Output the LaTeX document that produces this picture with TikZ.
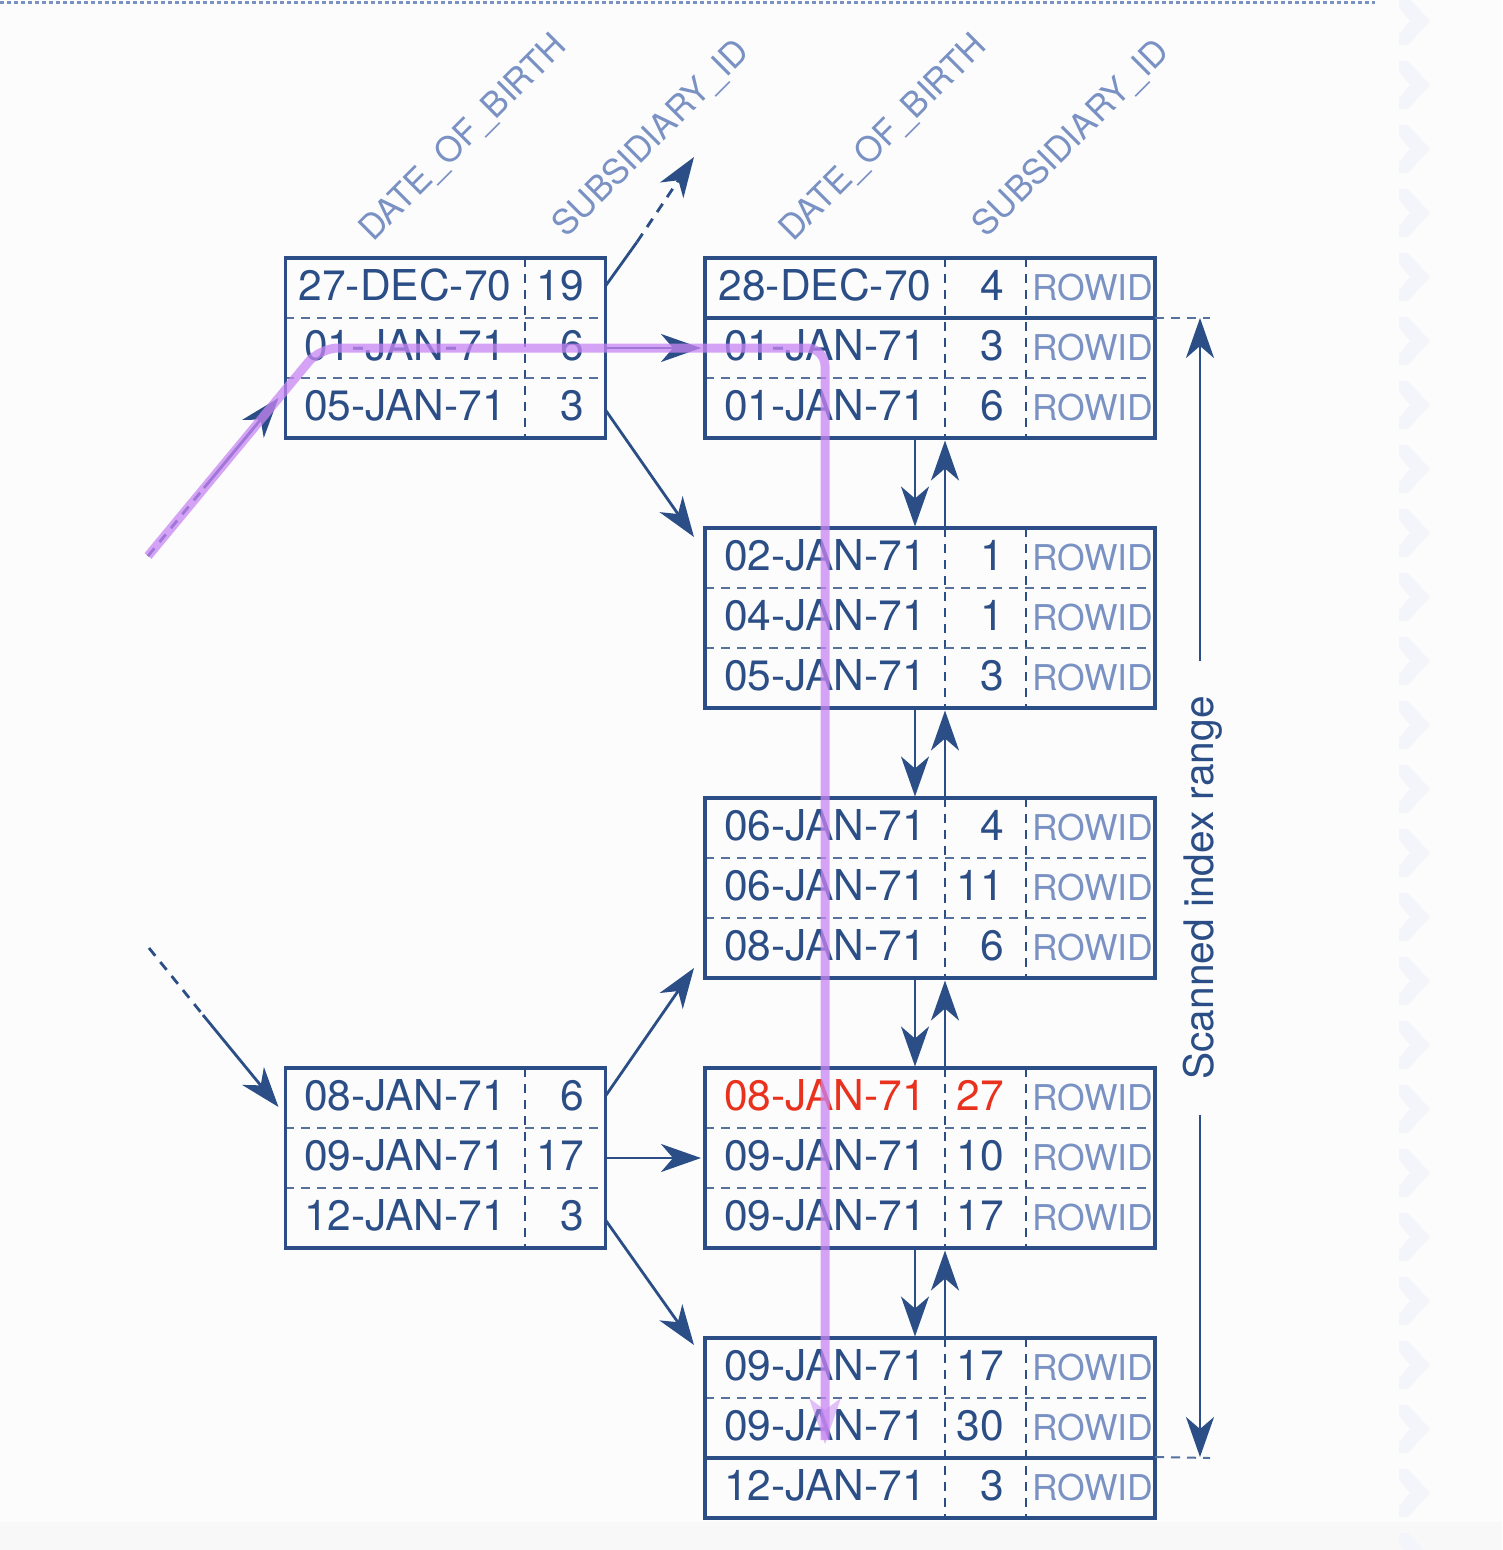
\documentclass[tikz,border=0pt]{standalone}
\usepackage{fontspec}
\setmainfont{TeX Gyre Heros}
\usetikzlibrary{arrows.meta,calc}
\definecolor{dblue}{RGB}{43,78,134}
\definecolor{lblue}{RGB}{122,145,196}
\definecolor{hred}{RGB}{232,50,30}
\definecolor{purp}{RGB}{200,134,243}
\definecolor{bgc}{RGB}{252,252,252}
\definecolor{bgband}{RGB}{248,248,248}
\definecolor{chev}{RGB}{244,245,250}

\newcommand\leafbox[8]{%
  \draw[vdash] (945,#2) -- (945,{#2+180});
  \draw[vdash] (1026,#2) -- (1026,{#2+180});
  \draw[cdash] (705,{#2+60}) -- (1155,{#2+60});
  \draw[cdash] (705,{#2+120}) -- (1155,{#2+120});
  \node[datet] (#1d1) at (825,{#2+42}) {#3};
  \node[numt] (#1n1) at (1004,{#2+42}) {#4};
  \node[rowidt] (#1w1) at (1032,{#2+42}) {ROWID};
  \node[datet] (#1d2) at (825,{#2+102}) {#5};
  \node[numt] (#1n2) at (1004,{#2+102}) {#6};
  \node[rowidt] (#1w2) at (1032,{#2+102}) {ROWID};
  \node[datet] (#1d3) at (825,{#2+162}) {#7};
  \node[numt] (#1n3) at (1004,{#2+162}) {#8};
  \node[rowidt] (#1w3) at (1032,{#2+162}) {ROWID};
  \node[box=450pt] (#1) at (930,{#2+90}) {};
}
\newcommand\branchbox[8]{%
  \draw[vdash] (525,#2) -- (525,{#2+180});
  \draw[cdash] (285,{#2+60}) -- (606,{#2+60});
  \draw[cdash] (285,{#2+120}) -- (606,{#2+120});
  \node[datet] (#1d1) at (405,{#2+42}) {#3};
  \node[numt] (#1n1) at (584,{#2+42}) {#4};
  \node[datet] (#1d2) at (405,{#2+102}) {#5};
  \node[numt] (#1n2) at (584,{#2+102}) {#6};
  \node[datet] (#1d3) at (405,{#2+162}) {#7};
  \node[numt] (#1n3) at (584,{#2+162}) {#8};
  \node[box=320pt] (#1) at (445.5,{#2+90}) {};
}

\begin{document}
\begin{tikzpicture}[x=1pt,y=-1pt,
  box/.style={draw=dblue,line width=3.4pt,minimum width=#1,minimum height=180pt,inner sep=0pt,outer sep=0pt},
  cdash/.style={draw=dblue!80,line width=2pt,dash pattern=on 9pt off 7pt},
  vdash/.style={draw=dblue,line width=2.6pt,dash pattern=on 9pt off 7pt},
  datet/.style={anchor=base,inner sep=0pt,text=dblue,font=\fontsize{42.5pt}{50pt}\selectfont},
  numt/.style={anchor=base east,inner sep=0pt,text=dblue,font=\fontsize{42.5pt}{50pt}\selectfont},
  rowidt/.style={anchor=base west,inner sep=0pt,text=lblue,font=\fontsize{35.5pt}{40pt}\selectfont},
  hdr/.style={anchor=base west,inner sep=0pt,rotate=45,text=lblue,font=\fontsize{34.5pt}{40pt}\selectfont},
  arr/.style={draw=dblue,line width=2.8pt,-{Stealth[length=40pt,width=28pt,inset=12pt]}},
  plain/.style={draw=dblue,line width=2.8pt},
  dashline/.style={draw=dblue,line width=2.8pt,dash pattern=on 10pt off 8pt},
  guide/.style={draw=dblue!80,line width=2pt,dash pattern=on 9pt off 7pt},
  purpline/.style={draw=purp,line width=9pt,opacity=.75,rounded corners=18pt},
]
% background
\useasboundingbox (0,0) rectangle (1502,1550);
\fill[bgc] (0,0) rectangle (1502,1550);
\fill[bgband] (0,1522) rectangle (1502,1550);
\foreach \c in {21,85,...,1560}{
  \fill[chev] (1399,\c-24) -- (1408,\c-24) -- (1430,\c) -- (1408,\c+24) -- (1399,\c+24)
    -- (1399,\c+13) -- (1410,\c) -- (1399,\c-13) -- cycle;
}
\draw[lblue,line width=3pt,dash pattern=on 4pt off 3pt] (0,2) -- (1375,2);

% headers
\node[hdr] (h1) at (373,243) {DATE\_OF\_BIRTH};
\node[hdr] (h2) at (566,239) {SUBSIDIARY\_ID};
\node[hdr] (h3) at (793,243) {DATE\_OF\_BIRTH};
\node[hdr] (h4) at (986,239) {SUBSIDIARY\_ID};

% branch boxes
\branchbox{L1}{258}{27-DEC-70}{19}{01-JAN-71}{6}{05-JAN-71}{3}
\branchbox{L2}{1068}{08-JAN-71}{6}{09-JAN-71}{17}{12-JAN-71}{3}

% leaf boxes
\leafbox{B1}{258}{28-DEC-70}{4}{01-JAN-71}{3}{01-JAN-71}{6}
\leafbox{B2}{528}{02-JAN-71}{1}{04-JAN-71}{1}{05-JAN-71}{3}
\leafbox{B3}{798}{06-JAN-71}{4}{06-JAN-71}{11}{08-JAN-71}{6}
\leafbox{B4}{1068}{{\color{hred}08-JAN-71}}{{\color{hred}27}}{09-JAN-71}{10}{09-JAN-71}{17}
\leafbox{B5}{1338}{09-JAN-71}{17}{09-JAN-71}{30}{12-JAN-71}{3}
\draw[dblue,line width=3.4pt] (B1.west |- 0,318) -- (B1.east |- 0,318);
\draw[dblue,line width=3.4pt] (B5.west |- 0,1458) -- (B5.east |- 0,1458);

% row reference coordinates
\coordinate (L1r1) at (445,286);
\coordinate (L1r2) at (445,348);
\coordinate (L1r3) at (445,410);
\coordinate (L2r1) at (445,1096);
\coordinate (L2r2) at (445,1158);
\coordinate (L2r3) at (445,1220);

% incoming arrows
\coordinate (in1) at (148,556);
\coordinate (in1m) at (204,488);
\coordinate (in2) at (149,948);
\coordinate (in2m) at (203,1015);
\draw[dashline] (in1) -- (in1m);
\draw[arr] (in1m) -- ($(L1.south west)+(-7,-40)$);
\draw[dashline] (in2) -- (in2m);
\draw[arr] (in2m) -- ($(L2.north west)+(-7,39)$);

% outgoing from branch L1
\coordinate (ur1) at (637,242);
\coordinate (ur2) at (694,157);
\draw[plain] (L1.east |- L1r1) -- (ur1);
\draw[arr,dash pattern=on 10pt off 8pt] (ur1) -- (ur2);
\draw[arr,shorten >=4pt] (L1.east |- L1r2) -- (B1.west |- L1r2);
\draw[arr] (L1.east |- L1r3) -- ($(B2.north west)+(-11,9)$);

% outgoing from branch L2
\draw[arr] (L2.east |- L2r1) -- ($(B3.south west)+(-11,-10)$);
\draw[arr,shorten >=4pt] (L2.east |- L2r2) -- (B4.west |- L2r2);
\draw[arr] (L2.east |- L2r3) -- ($(B5.north west)+(-11,7)$);

% leaf chain
\coordinate (dnx) at (915,0);
\coordinate (upx) at (945,0);
\foreach \a/\b in {B1/B2,B2/B3,B3/B4,B4/B5}{
  \draw[arr,shorten >=1.5pt] (\a.south -| dnx) -- (\b.north -| dnx);
  \draw[arr,shorten >=2.5pt] (\b.north -| upx) -- (\a.south -| upx);
}

% scanned range
\node[rotate=90,anchor=base,inner xsep=35pt,inner ysep=0pt,text=dblue,
  font=\fontsize{40.7pt}{48pt}\selectfont] (scan) at (1213,888) {Scanned index range};
\coordinate (rTop) at (1200,318);
\coordinate (rBot) at (1200,1457);
\coordinate (rTopG) at (1210,318);
\coordinate (rBotG) at (1210,1458);
\draw[guide] (B1.east |- rTop) -- (rTopG);
\draw[guide] (B5.east |- rBot) -- (rBotG);
\draw[arr,line width=2.4pt] (scan.east -| rTop) -- (rTop);
\draw[arr,line width=2.4pt] (scan.west -| rBot) -- (rBot);

% purple access path
\coordinate (pc1) at (320,348);
\coordinate (pc2) at (825,348);
\coordinate (pEnd) at (825,1440);
\draw[purpline] (in1) -- (pc1) -- (pc2) -- (pEnd);
\fill[purp,opacity=.5] (809,1398) -- (825,1444) -- (841,1398) -- (825,1410) -- cycle;
\end{tikzpicture}
\end{document}
